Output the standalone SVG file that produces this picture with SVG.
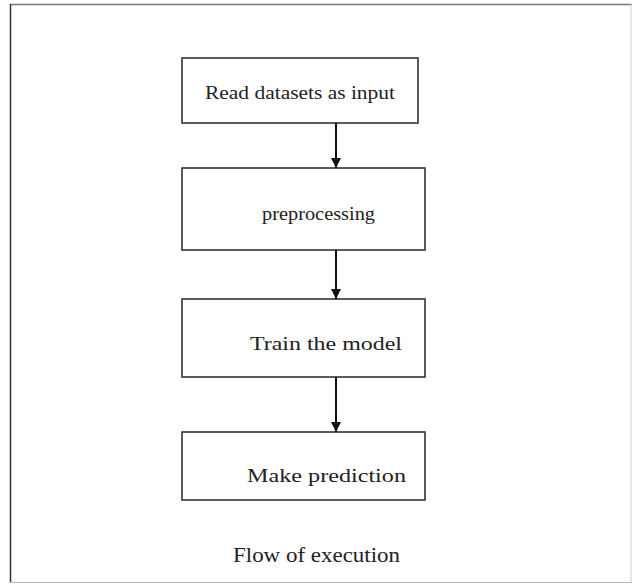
<svg xmlns="http://www.w3.org/2000/svg" width="634" height="585" viewBox="0 0 634 585">
<defs>
<marker id="ah" viewBox="0 0 10 10" refX="10" refY="5" markerWidth="10" markerHeight="10" markerUnits="userSpaceOnUse" orient="auto">
<path d="M0,0 L10,5 L0,10 z" fill="#111"/>
</marker>
<style>
.box{fill:#fff;stroke:#333;stroke-width:1.6}
.lbl{font-family:"Liberation Serif","Times New Roman",serif;font-size:19px;fill:#222}
.conn{stroke:#111;stroke-width:2;fill:none;marker-end:url(#ah)}
</style>
</defs>
<rect width="634" height="585" fill="#fff"/>
<g id="frame">
<line x1="10" y1="4.5" x2="632" y2="4.5" stroke="#777" stroke-width="1.5"/>
<line x1="10.5" y1="4" x2="10.5" y2="583" stroke="#333" stroke-width="1.5"/>
<line x1="631" y1="4" x2="631" y2="583" stroke="#ccc" stroke-width="1"/>
<line x1="10" y1="582.5" x2="632" y2="582.5" stroke="#bbb" stroke-width="1"/>
</g>
<g id="n1"><rect class="box" x="182" y="58" width="236" height="65"/><text class="lbl" x="205" y="99" textLength="190" lengthAdjust="spacingAndGlyphs">Read datasets as input</text></g>
<g id="n2"><rect class="box" x="182" y="168" width="243" height="82"/><text class="lbl" x="262" y="220" textLength="113" lengthAdjust="spacingAndGlyphs">preprocessing</text></g>
<g id="n3"><rect class="box" x="182" y="299" width="243" height="78"/><text class="lbl" x="250" y="350" textLength="152" lengthAdjust="spacingAndGlyphs">Train the model</text></g>
<g id="n4"><rect class="box" x="182" y="432" width="243" height="68"/><text class="lbl" x="247" y="482" textLength="159" lengthAdjust="spacingAndGlyphs">Make prediction</text></g>
<g id="caption"><text class="lbl" x="233" y="562" style="font-size:21px" textLength="167" lengthAdjust="spacingAndGlyphs">Flow of execution</text></g>
<g id="connectors">
<line class="conn" x1="336" y1="123" x2="336" y2="168"/>
<line class="conn" x1="336" y1="250" x2="336" y2="299"/>
<line class="conn" x1="336" y1="377" x2="336" y2="432"/>
</g>
</svg>
